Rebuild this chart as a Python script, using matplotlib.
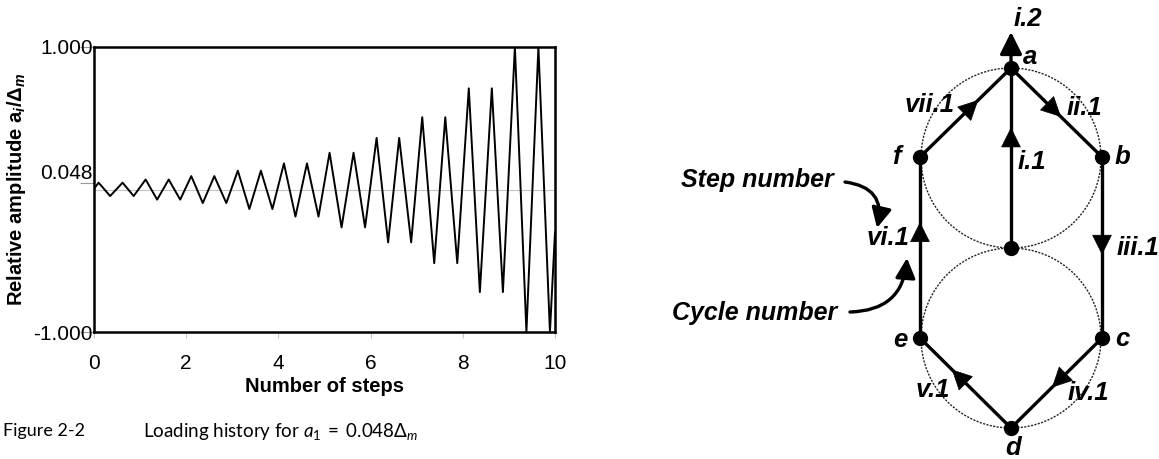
import numpy as np
import matplotlib
matplotlib.use("Agg")
import matplotlib.pyplot as plt
from matplotlib.patches import Circle

plt.rcParams['font.family'] = ['Liberation Sans', 'DejaVu Sans']
plt.rcParams['mathtext.fontset'] = 'custom'
plt.rcParams['mathtext.rm'] = 'Lato'
plt.rcParams['mathtext.it'] = 'Lato:italic'
plt.rcParams['mathtext.bf'] = 'Liberation Sans:bold'
plt.rcParams['mathtext.bfit'] = 'Liberation Sans:bold:italic'

### loading history (left panel)
steps = [0, 0.10, 0.35, 0.62, 0.86, 1.12, 1.37, 1.62, 1.87, 2.11, 2.36, 2.61, 2.87,
         3.12, 3.37, 3.62, 3.87, 4.12, 4.37, 4.62, 4.87, 5.11, 5.37, 5.63, 5.88,
         6.13, 6.38, 6.62, 6.88, 7.12, 7.38, 7.62, 7.88, 8.13, 8.37, 8.63, 8.87,
         9.13, 9.38, 9.64, 9.89, 10.0]
amp = [0.005, 0.048, -0.046, 0.048, -0.046, 0.07, -0.071, 0.07, -0.071, 0.094, -0.095,
       0.094, -0.095, 0.132, -0.137, 0.132, -0.137, 0.183, -0.19, 0.183, -0.19,
       0.258, -0.266, 0.258, -0.266, 0.362, -0.371, 0.362, -0.371, 0.507, -0.517,
       0.507, -0.517, 0.71, -0.72, 0.71, -0.72, 1.0, -1.0, 1.0, -1.0, -0.3]
yticks = [-1.0, 0.048, 1.0]
ytick_labels = ['-1.000', '0.048', '1.000']
xticks = [0, 2, 4, 6, 8, 10]

### diagram (right panel) - node positions in figure pixels
nodes = {'a': (1011, 68), 'b': (1102, 157), 'c': (1102, 338), 'd': (1011, 428),
         'e': (920, 338), 'f': (920, 157), 'o': (1011, 248)}
circles = [(1011, 158, 90), (1011, 338, 90)]
# edge start, edge end, where the arrow tip sits along the edge
edges = [('o', 'a', 0.67), ('a', 'b', 0.55), ('b', 'c', 0.54), ('c', 'd', 0.55),
         ('d', 'e', 0.65), ('e', 'f', 0.64), ('f', 'a', 0.64)]
node_labels = [('a', 1030, 57), ('b', 1122, 157), ('c', 1122, 339), ('d', 1013, 448),
               ('e', 900, 340), ('f', 896, 157)]
step_labels = [('i.2', 1028, 19), ('vii.1', 930, 105), ('ii.1', 1084, 108),
               ('i.1', 1032, 162), ('iii.1', 1138, 248), ('iv.1', 1088, 393),
               ('v.1', 933, 390), ('vi.1', 888, 238)]

fig = plt.figure(figsize=(11.59, 4.59), dpi=100)

# ---- left: loading history
ax = fig.add_axes([94/1159, 127/459, 461/1159, 285/459])
ax.axhline(0, color='#c4c4c4', lw=0.8, zorder=1)
ax.plot(steps, amp, color='black', lw=1.4, zorder=2)
ax.set_xlim(0, 10)
ax.set_ylim(-1, 1)
for s in ax.spines.values():
    s.set_linewidth(1.8)
ax.set_xticks(xticks)
ax.set_xticklabels([str(t) for t in xticks])
ax.set_yticks(yticks)
ax.set_yticklabels(ytick_labels)
ax.tick_params(axis='x', length=4, width=0.8, color='#c4c4c4', pad=12, labelsize=15)
ax.tick_params(axis='y', length=10, width=0.8, color='#999999', pad=-9, labelsize=15)
ax.get_yticklabels()[1].set_va('bottom')
ax.set_xlabel('Number of steps', fontsize=14.5, fontweight='bold', labelpad=3)
ax.set_ylabel(r'Relative amplitude a$_{\mathbfit{i}}$/$\mathbf{\Delta}_{\mathbfit{m}}$',
              fontsize=14.5, fontweight='bold', labelpad=4)

fig.text(3/1159, 1 - 431/459, 'Figure 2-2', family='Lato', fontsize=13, va='center')
fig.text(143/1159, 1 - 431/459, r'Loading history for $a_{\mathit{1}}\;=\;0.048\mathit{\Delta}_{m}$',
         family='Lato', fontsize=13.5, va='center')

# ---- right: step / cycle diagram, drawn in pixel space
dg = fig.add_axes([0, 0, 1, 1])
dg.set_xlim(0, 1159)
dg.set_ylim(459, 0)
dg.axis('off')
dg.patch.set_alpha(0)

for cx, cy, r in circles:
    dg.add_patch(Circle((cx, cy), r, fill=False, ls=(0, (1.5, 1.0)), lw=1.0, color='#222222'))

head = dict(arrowstyle='-|>,head_length=0.5,head_width=0.25', color='black',
            lw=0.5, shrinkA=0, shrinkB=0, mutation_scale=27)
for n0, n1, frac in edges:
    x0, y0 = nodes[n0]
    x1, y1 = nodes[n1]
    dg.plot([x0, x1], [y0, y1], color='black', lw=2.4, solid_capstyle='butt')
    tx, ty = x0 + frac * (x1 - x0), y0 + frac * (y1 - y0)
    bx, by = x0 + (frac - 0.05) * (x1 - x0), y0 + (frac - 0.05) * (y1 - y0)
    dg.annotate('', xy=(tx, ty), xytext=(bx, by), arrowprops=head)

# i.2 arrow leaving node a upward
ax_, ay_ = nodes['a']
dg.annotate('', xy=(ax_, 32), xytext=(ax_, ay_),
            arrowprops=dict(head, lw=2.4))

for n, (x, y) in nodes.items():
    dg.plot(x, y, 'o', color='black', ms=10, zorder=5)

txt = dict(ha='center', va='center', fontsize=18.5, fontweight='bold', style='italic')
for t, x, y in node_labels:
    dg.text(x, y, t, **txt)
for t, x, y in step_labels:
    dg.text(x, y, t, **txt)

dg.text(757, 180, 'Step number', **dict(txt, fontsize=18))
dg.text(755, 313, 'Cycle number', **dict(txt, fontsize=18))
curve = dict(arrowstyle='-|>,head_length=0.5,head_width=0.25', color='black',
             lw=2.4, shrinkA=0, shrinkB=0, mutation_scale=24)
dg.annotate('', xy=(877, 228), xytext=(845, 182),
            arrowprops=dict(curve, connectionstyle='arc3,rad=-0.55'))
dg.annotate('', xy=(907, 258), xytext=(850, 312),
            arrowprops=dict(curve, connectionstyle='arc3,rad=0.45'))

fig.savefig('out.png', dpi=100)
